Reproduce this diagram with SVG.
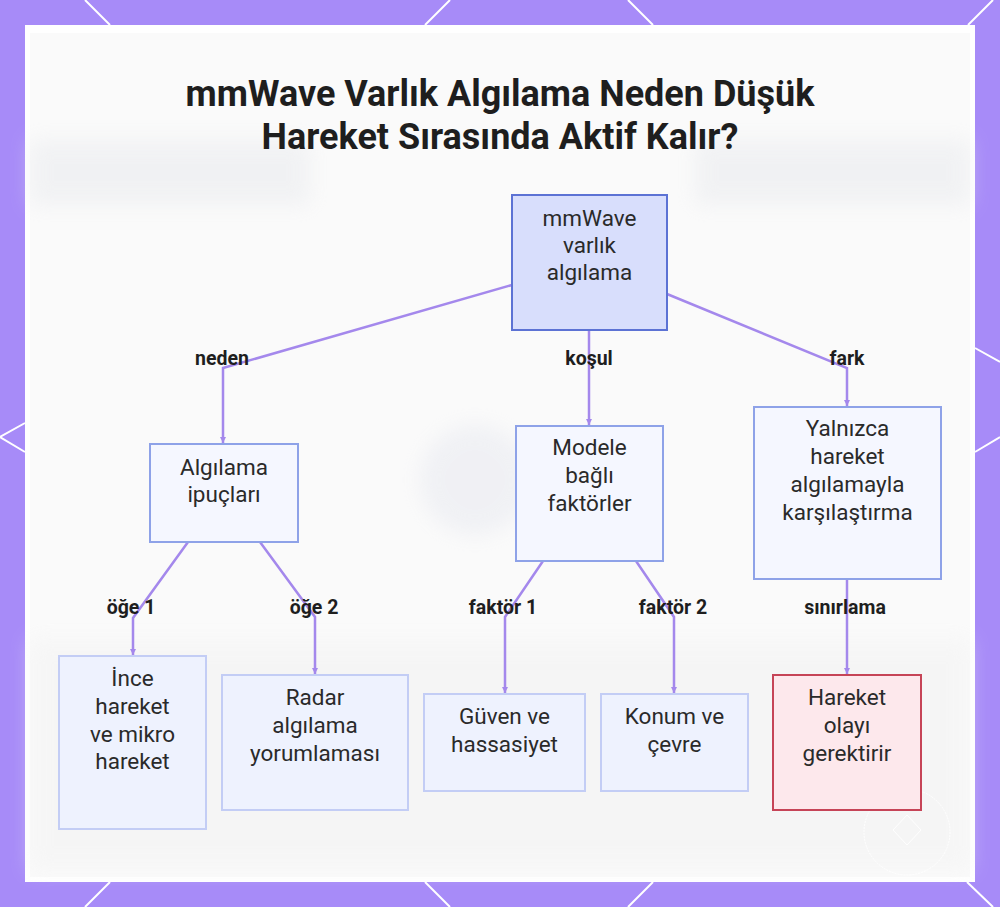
<svg xmlns="http://www.w3.org/2000/svg" width="1000" height="907" viewBox="0 0 1000 907">
<defs>
<style>
.title{font-family:Roboto,"Liberation Sans",sans-serif;font-weight:700;font-size:36px;fill:#1e1e1e;text-anchor:middle}
.nt{font-family:Roboto,"Liberation Sans",sans-serif;font-size:22.5px;fill:#2a2a2a;text-anchor:middle}
.lbl{font-family:Roboto,"Liberation Sans",sans-serif;font-weight:700;font-size:19.5px;fill:#1e1e1e;text-anchor:middle}
.con{fill:none;stroke:#a488ec;stroke-width:2.5;marker-end:url(#arr)}
.root{fill:#d8defc;stroke:#5c72d4;stroke-width:2}
.mid{fill:#f5f7ff;stroke:#8ea2e8;stroke-width:2}
.leaf{fill:#eef2fe;stroke:#c3cdf5;stroke-width:2}
.warn{fill:#fde8ec;stroke:#c64457;stroke-width:2}
.frame{stroke:#ffffff;stroke-width:2;fill:none}
</style>
<marker id="arr" markerUnits="userSpaceOnUse" markerWidth="8" markerHeight="8" refX="6" refY="4" orient="auto">
<path d="M0,1 L6,4 L0,7 z" fill="#a488ec"/>
</marker>
<filter id="blur" x="-20%" y="-20%" width="140%" height="140%"><feGaussianBlur stdDeviation="10"/></filter>
</defs>
<rect x="0" y="0" width="1000" height="907" fill="#a78bf8"/>
<g class="frame">
<line x1="85" y1="0" x2="110" y2="25"/>
<line x1="450" y1="0" x2="425" y2="25"/>
<line x1="628" y1="0" x2="653" y2="25"/>
<line x1="993" y1="0" x2="968" y2="25"/>
<line x1="110" y1="882" x2="85" y2="907"/>
<line x1="425" y1="882" x2="450" y2="907"/>
<line x1="653" y1="882" x2="628" y2="907"/>
<line x1="967" y1="882" x2="993" y2="907"/>
<line x1="25" y1="423" x2="0" y2="437"/>
<line x1="0" y1="437" x2="25" y2="452"/>
<line x1="975" y1="348" x2="1000" y2="362"/>
<line x1="975" y1="452" x2="1000" y2="437"/>
</g>
<rect x="25" y="25" width="950" height="857" fill="#ffffff"/>
<rect x="30" y="33" width="940" height="844" fill="#fafafa"/>
<g filter="url(#blur)" opacity="0.45">
<rect x="30" y="140" width="280" height="65" fill="#e6e8ec"/>
<rect x="695" y="140" width="275" height="65" fill="#e6e8ec"/>
<circle cx="475" cy="480" r="55" fill="#e4e6ee"/>
<rect x="30" y="640" width="940" height="230" fill="#f1f1f1"/>
</g>
<g id="watermark" fill="none" stroke="#ffffff" stroke-width="1" opacity="0.9">
<circle cx="907" cy="832" r="43" stroke-dasharray="2 1"/>
<path d="M907,815 L921,830 L907,845 L893,830 z"/>
</g>
<text class="title" x="500" y="106">mmWave Varlık Algılama Neden Düşük</text>
<text class="title" x="500" y="149">Hareket Sırasında Aktif Kalır?</text>
<g id="connectors">
<polyline class="con" points="512,285 223,368 223,443"/>
<polyline class="con" points="589,330 589,425"/>
<polyline class="con" points="667,294 847,368 847,406"/>
<polyline class="con" points="188,542 133,618 133,655"/>
<polyline class="con" points="260,542 315,617 315,674"/>
<polyline class="con" points="543,561 505,617 505,693"/>
<polyline class="con" points="636,561 674,617 674,693"/>
<polyline class="con" points="847,579 847,674"/>
<text class="lbl" x="222" y="365">neden</text>
<text class="lbl" x="589" y="365">koşul</text>
<text class="lbl" x="847" y="365">fark</text>
<text class="lbl" x="131" y="614">öğe 1</text>
<text class="lbl" x="314" y="614">öğe 2</text>
<text class="lbl" x="503" y="614">faktör 1</text>
<text class="lbl" x="673" y="614">faktör 2</text>
<text class="lbl" x="845" y="614">sınırlama</text>
</g>
<g id="n-root">
<rect class="root" x="512" y="195" width="155" height="135"/>
<text class="nt" x="589.5" y="226">mmWave</text>
<text class="nt" x="589.5" y="253">varlık</text>
<text class="nt" x="589.5" y="280">algılama</text>
</g>
<g id="n-ipuclari">
<rect class="mid" x="150" y="444" width="148" height="98"/>
<text class="nt" x="224" y="475">Algılama</text>
<text class="nt" x="224" y="502">ipuçları</text>
</g>
<g id="n-modele">
<rect class="mid" x="516" y="426" width="147" height="135"/>
<text class="nt" x="589.5" y="455">Modele</text>
<text class="nt" x="589.5" y="483">bağlı</text>
<text class="nt" x="589.5" y="511">faktörler</text>
</g>
<g id="n-yalnizca">
<rect class="mid" x="754" y="407" width="187" height="172"/>
<text class="nt" x="847.5" y="436">Yalnızca</text>
<text class="nt" x="847.5" y="464">hareket</text>
<text class="nt" x="847.5" y="492">algılamayla</text>
<text class="nt" x="847.5" y="520">karşılaştırma</text>
</g>
<g id="n-ince">
<rect class="leaf" x="59" y="656" width="147" height="173"/>
<text class="nt" x="132.5" y="686">İnce</text>
<text class="nt" x="132.5" y="714">hareket</text>
<text class="nt" x="132.5" y="742">ve mikro</text>
<text class="nt" x="132.5" y="769">hareket</text>
</g>
<g id="n-radar">
<rect class="leaf" x="222" y="675" width="186" height="135"/>
<text class="nt" x="315" y="705">Radar</text>
<text class="nt" x="315" y="733">algılama</text>
<text class="nt" x="315" y="761">yorumlaması</text>
</g>
<g id="n-guven">
<rect class="leaf" x="424" y="694" width="161" height="97"/>
<text class="nt" x="504.5" y="724">Güven ve</text>
<text class="nt" x="504.5" y="752">hassasiyet</text>
</g>
<g id="n-konum">
<rect class="leaf" x="601" y="694" width="147" height="97"/>
<text class="nt" x="674.5" y="724">Konum ve</text>
<text class="nt" x="674.5" y="752">çevre</text>
</g>
<g id="n-hareket">
<rect class="warn" x="773" y="675" width="148" height="135"/>
<text class="nt" x="847" y="705">Hareket</text>
<text class="nt" x="847" y="733">olayı</text>
<text class="nt" x="847" y="761">gerektirir</text>
</g>
</svg>
